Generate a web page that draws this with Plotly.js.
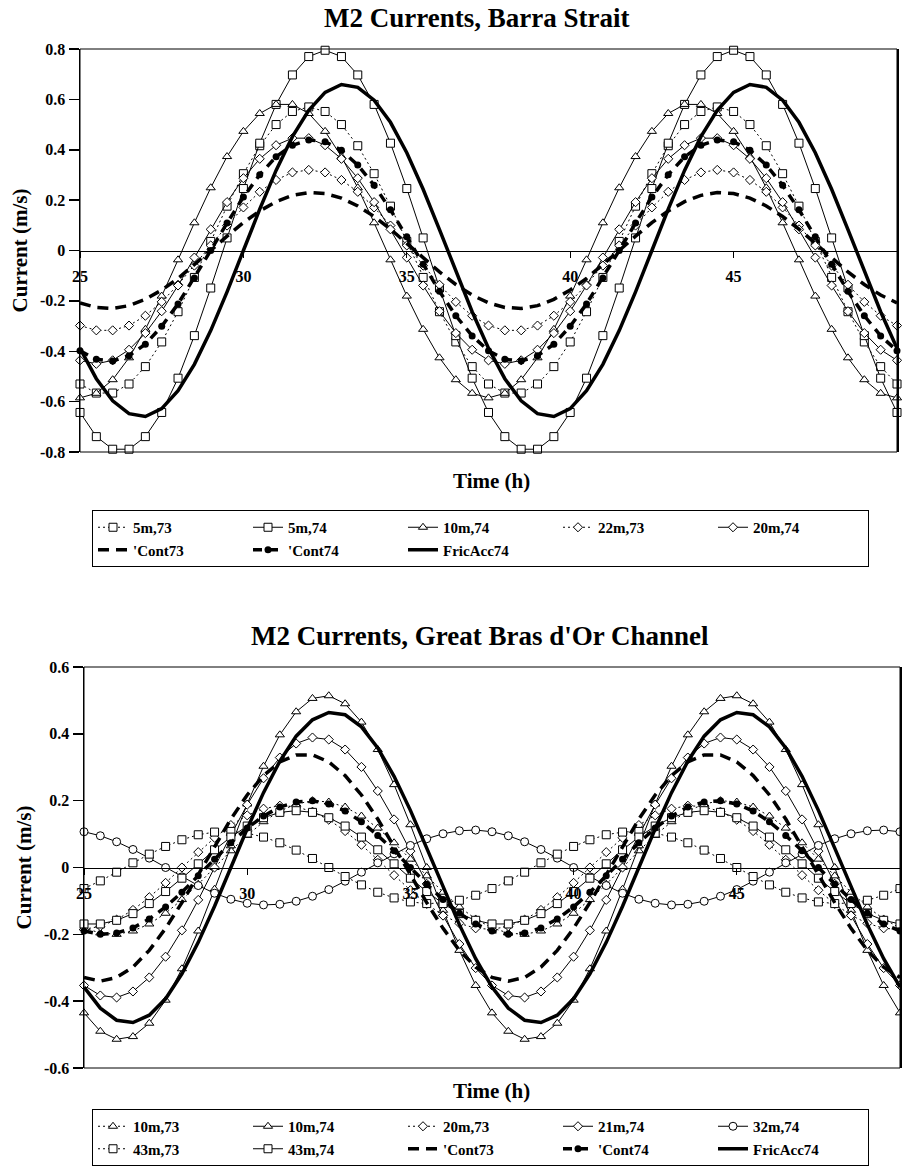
<!DOCTYPE html>
<html><head><meta charset="utf-8">
<script src="https://cdn.plot.ly/plotly-3.0.1.min.js"></script>
<style>html,body{margin:0;padding:0;background:#fff}#chart{width:902px;height:1172px}</style>
</head><body><div id="chart"></div>
<script>
// ---- data ----
const timeH = [25,25.5,26,26.5,27,27.5,28,28.5,29,29.5,30,30.5,31,31.5,32,32.5,33,33.5,34,34.5,35,35.5,36,36.5,37,37.5,38,38.5,39,39.5,40,40.5,41,41.5,42,42.5,43,43.5,44,44.5,45,45.5,46,46.5,47,47.5,48,48.5,49,49.5,50];
const xTickVals = [25,30,35,40,45,50];
const xTickText = ['25','30','35','40','45','50'];
const yTickVals1 = [-0.8,-0.6,-0.4,-0.2,0,0.2,0.4,0.6,0.8];
const yTickText1 = ['-0.8','-0.6','-0.4','-0.2','0','0.2','0.4','0.6','0.8'];
const yTickVals2 = [-0.6,-0.4,-0.2,0,0.2,0.4,0.6];
const yTickText2 = ['-0.6','-0.4','-0.2','0','0.2','0.4','0.6'];

// Barra Strait
const barra_5m73 = [-0.53,-0.566,-0.566,-0.53,-0.461,-0.363,-0.243,-0.107,0.036,0.176,0.305,0.416,0.5,0.552,0.57,0.552,0.5,0.416,0.305,0.176,0.036,-0.107,-0.243,-0.363,-0.461,-0.53,-0.566,-0.566,-0.53,-0.461,-0.363,-0.243,-0.107,0.036,0.176,0.305,0.416,0.5,0.552,0.57,0.552,0.5,0.416,0.305,0.176,0.036,-0.107,-0.243,-0.363,-0.461,-0.53];
const barra_5m74 = [-0.643,-0.739,-0.789,-0.789,-0.739,-0.643,-0.507,-0.338,-0.149,0.05,0.246,0.426,0.58,0.697,0.77,0.795,0.77,0.697,0.58,0.426,0.246,0.05,-0.149,-0.338,-0.507,-0.643,-0.739,-0.789,-0.789,-0.739,-0.643,-0.507,-0.338,-0.149,0.05,0.246,0.426,0.58,0.697,0.77,0.795,0.77,0.697,0.58,0.426,0.246,0.05,-0.149,-0.338,-0.507,-0.643];
const barra_10m74 = [-0.585,-0.567,-0.513,-0.426,-0.313,-0.181,-0.037,0.11,0.249,0.373,0.473,0.544,0.58,0.58,0.544,0.473,0.373,0.249,0.11,-0.037,-0.181,-0.313,-0.426,-0.513,-0.567,-0.585,-0.567,-0.513,-0.426,-0.313,-0.181,-0.037,0.11,0.249,0.373,0.473,0.544,0.58,0.58,0.544,0.473,0.373,0.249,0.11,-0.037,-0.181,-0.313,-0.426,-0.513,-0.567,-0.585];
const barra_22m73 = [-0.298,-0.317,-0.317,-0.298,-0.259,-0.204,-0.136,-0.06,0.02,0.099,0.171,0.233,0.28,0.31,0.32,0.31,0.28,0.233,0.171,0.099,0.02,-0.06,-0.136,-0.204,-0.259,-0.298,-0.317,-0.317,-0.298,-0.259,-0.204,-0.136,-0.06,0.02,0.099,0.171,0.233,0.28,0.31,0.32,0.31,0.28,0.233,0.171,0.099,0.02,-0.06,-0.136,-0.204,-0.259,-0.298];
const barra_20m74 = [-0.436,-0.45,-0.436,-0.394,-0.328,-0.241,-0.139,-0.028,0.084,0.192,0.287,0.364,0.418,0.446,0.446,0.418,0.364,0.287,0.192,0.084,-0.028,-0.139,-0.241,-0.328,-0.394,-0.436,-0.45,-0.436,-0.394,-0.328,-0.241,-0.139,-0.028,0.084,0.192,0.287,0.364,0.418,0.446,0.446,0.418,0.364,0.287,0.192,0.084,-0.028,-0.139,-0.241,-0.328,-0.394,-0.436];
const barra_cont73 = [-0.208,-0.226,-0.23,-0.219,-0.194,-0.157,-0.111,-0.057,0,0.057,0.111,0.157,0.194,0.219,0.23,0.226,0.208,0.177,0.135,0.085,0.029,-0.029,-0.085,-0.135,-0.177,-0.208,-0.226,-0.23,-0.219,-0.194,-0.157,-0.111,-0.057,0,0.057,0.111,0.157,0.194,0.219,0.23,0.226,0.208,0.177,0.135,0.085,0.029,-0.029,-0.085,-0.135,-0.177,-0.208];
const barra_cont74 = [-0.398,-0.432,-0.439,-0.418,-0.372,-0.301,-0.212,-0.109,0,0.109,0.212,0.301,0.372,0.418,0.439,0.432,0.398,0.339,0.259,0.162,0.055,-0.055,-0.162,-0.259,-0.339,-0.398,-0.432,-0.439,-0.418,-0.372,-0.301,-0.212,-0.109,0,0.109,0.212,0.301,0.372,0.418,0.439,0.432,0.398,0.339,0.259,0.162,0.055,-0.055,-0.162,-0.259,-0.339,-0.398];
const barra_fric74 = [-0.388,-0.509,-0.597,-0.648,-0.659,-0.628,-0.557,-0.452,-0.318,-0.164,0,0.164,0.318,0.452,0.557,0.628,0.659,0.648,0.597,0.509,0.388,0.243,0.083,-0.083,-0.243,-0.388,-0.509,-0.597,-0.648,-0.659,-0.628,-0.557,-0.452,-0.318,-0.164,0,0.164,0.318,0.452,0.557,0.628,0.659,0.648,0.597,0.509,0.388,0.243,0.083,-0.083,-0.243,-0.388];

// Great Bras d'Or Channel
const bras_10m73 = [-0.181,-0.196,-0.2,-0.19,-0.169,-0.137,-0.096,-0.05,0,0.05,0.096,0.137,0.169,0.19,0.2,0.196,0.181,0.154,0.118,0.074,0.025,-0.025,-0.074,-0.118,-0.154,-0.181,-0.196,-0.2,-0.19,-0.169,-0.137,-0.096,-0.05,0,0.05,0.096,0.137,0.169,0.19,0.2,0.196,0.181,0.154,0.118,0.074,0.025,-0.025,-0.074,-0.118,-0.154,-0.181];
const bras_10m74 = [-0.435,-0.49,-0.514,-0.506,-0.466,-0.397,-0.303,-0.19,-0.065,0.065,0.19,0.303,0.397,0.466,0.506,0.514,0.49,0.435,0.353,0.248,0.128,0,-0.128,-0.248,-0.353,-0.435,-0.49,-0.514,-0.506,-0.466,-0.397,-0.303,-0.19,-0.065,0.065,0.19,0.303,0.397,0.466,0.506,0.514,0.49,0.435,0.353,0.248,0.128,0,-0.128,-0.248,-0.353,-0.435];
const bras_20m73 = [-0.185,-0.176,-0.156,-0.127,-0.089,-0.046,0,0.046,0.089,0.127,0.156,0.176,0.185,0.182,0.167,0.143,0.109,0.068,0.023,-0.023,-0.068,-0.109,-0.143,-0.167,-0.182,-0.185,-0.176,-0.156,-0.127,-0.089,-0.046,0,0.046,0.089,0.127,0.156,0.176,0.185,0.182,0.167,0.143,0.109,0.068,0.023,-0.023,-0.068,-0.109,-0.143,-0.167,-0.182,-0.185];
const bras_21m74 = [-0.353,-0.383,-0.389,-0.371,-0.329,-0.267,-0.188,-0.097,0,0.097,0.188,0.267,0.329,0.371,0.389,0.383,0.353,0.301,0.229,0.144,0.049,-0.049,-0.144,-0.229,-0.301,-0.353,-0.383,-0.389,-0.371,-0.329,-0.267,-0.188,-0.097,0,0.097,0.188,0.267,0.329,0.371,0.389,0.383,0.353,0.301,0.229,0.144,0.049,-0.049,-0.144,-0.229,-0.301,-0.353];
const bras_32m74 = [0.107,0.095,0.077,0.054,0.028,0,-0.028,-0.054,-0.077,-0.095,-0.107,-0.112,-0.11,-0.101,-0.086,-0.066,-0.041,-0.014,0.014,0.041,0.066,0.086,0.101,0.11,0.112,0.107,0.095,0.077,0.054,0.028,0,-0.028,-0.054,-0.077,-0.095,-0.107,-0.112,-0.11,-0.101,-0.086,-0.066,-0.041,-0.014,0.014,0.041,0.066,0.086,0.101,0.11,0.112,0.107];
const bras_43m73 = [-0.063,-0.04,-0.014,0.014,0.04,0.063,0.083,0.098,0.106,0.108,0.103,0.091,0.074,0.052,0.027,0,-0.027,-0.052,-0.074,-0.091,-0.103,-0.108,-0.106,-0.098,-0.083,-0.063,-0.04,-0.014,0.014,0.04,0.063,0.083,0.098,0.106,0.108,0.103,0.091,0.074,0.052,0.027,0,-0.027,-0.052,-0.074,-0.091,-0.103,-0.108,-0.106,-0.098,-0.083,-0.063];
const bras_43m74 = [-0.169,-0.169,-0.158,-0.138,-0.108,-0.072,-0.032,0.011,0.053,0.091,0.124,0.149,0.165,0.17,0.165,0.149,0.124,0.091,0.053,0.011,-0.032,-0.072,-0.108,-0.138,-0.158,-0.169,-0.169,-0.158,-0.138,-0.108,-0.072,-0.032,0.011,0.053,0.091,0.124,0.149,0.165,0.17,0.165,0.149,0.124,0.091,0.053,0.011,-0.032,-0.072,-0.108,-0.138,-0.158,-0.169];
const bras_cont73 = [-0.329,-0.34,-0.329,-0.298,-0.248,-0.182,-0.105,-0.021,0.064,0.145,0.217,0.275,0.316,0.337,0.337,0.316,0.275,0.217,0.145,0.064,-0.021,-0.105,-0.182,-0.248,-0.298,-0.329,-0.34,-0.329,-0.298,-0.248,-0.182,-0.105,-0.021,0.064,0.145,0.217,0.275,0.316,0.337,0.337,0.316,0.275,0.217,0.145,0.064,-0.021,-0.105,-0.182,-0.248,-0.298,-0.329];
const bras_cont74 = [-0.19,-0.2,-0.196,-0.181,-0.154,-0.118,-0.074,-0.025,0.025,0.074,0.118,0.154,0.181,0.196,0.2,0.19,0.169,0.137,0.096,0.05,0,-0.05,-0.096,-0.137,-0.169,-0.19,-0.2,-0.196,-0.181,-0.154,-0.118,-0.074,-0.025,0.025,0.074,0.118,0.154,0.181,0.196,0.2,0.19,0.169,0.137,0.096,0.05,0,-0.05,-0.096,-0.137,-0.169,-0.19];
const bras_fric74 = [-0.358,-0.421,-0.457,-0.464,-0.442,-0.393,-0.318,-0.224,-0.116,0,0.116,0.224,0.318,0.393,0.442,0.464,0.457,0.421,0.358,0.273,0.171,0.058,-0.058,-0.171,-0.273,-0.358,-0.421,-0.457,-0.464,-0.442,-0.393,-0.318,-0.224,-0.116,0,0.116,0.224,0.318,0.393,0.442,0.464,0.457,0.421,0.358,0.273,0.171,0.058,-0.058,-0.171,-0.273,-0.358];

// ---- styles ----
const FONT = 'Liberation Serif, Times New Roman, serif';
const DOT = '2px,3px';
const styles = {
  dotSquare:  {mode:'lines+markers', line:{color:'#000', width:1, dash:DOT}, marker:{symbol:'square', size:8, color:'#fff', line:{color:'#000', width:1}}},
  solSquare:  {mode:'lines+markers', line:{color:'#000', width:1}, marker:{symbol:'square', size:8, color:'#fff', line:{color:'#000', width:1}}},
  dotTri:     {mode:'lines+markers', line:{color:'#000', width:1, dash:DOT}, marker:{symbol:'triangle-up', size:8, color:'#fff', line:{color:'#000', width:1}}},
  solTri:     {mode:'lines+markers', line:{color:'#000', width:1}, marker:{symbol:'triangle-up', size:8, color:'#fff', line:{color:'#000', width:1}}},
  dotDiam:    {mode:'lines+markers', line:{color:'#000', width:1, dash:DOT}, marker:{symbol:'diamond', size:7, color:'#fff', line:{color:'#000', width:1}}},
  solDiam:    {mode:'lines+markers', line:{color:'#000', width:1}, marker:{symbol:'diamond', size:7, color:'#fff', line:{color:'#000', width:1}}},
  solCirc:    {mode:'lines+markers', line:{color:'#000', width:1}, marker:{symbol:'circle', size:8, color:'#fff', line:{color:'#000', width:1}}},
  cont73:     {mode:'lines', line:{color:'#000', width:3.5, dash:'11px,7px'}},
  cont74:     {mode:'lines+markers', line:{color:'#000', width:3.5, dash:'9px,7px'}, marker:{symbol:'circle', size:7, color:'#000'}},
  fric:       {mode:'lines', line:{color:'#000', width:3.5}}
};
function mk(name, y, xa, ya, leg, st){
  return Object.assign({type:'scatter', name:name, x:timeH, y:y, xaxis:xa, yaxis:ya, legend:leg, cliponaxis:false, hoverinfo:'x+y+name'}, JSON.parse(JSON.stringify(styles[st])));
}
const traces = [
  mk('5m,73', barra_5m73, 'x','y','legend','dotSquare'),
  mk('5m,74', barra_5m74, 'x','y','legend','solSquare'),
  mk('10m,74', barra_10m74, 'x','y','legend','solTri'),
  mk('22m,73', barra_22m73, 'x','y','legend','dotDiam'),
  mk('20m,74', barra_20m74, 'x','y','legend','solDiam'),
  mk("'Cont73", barra_cont73, 'x','y','legend','cont73'),
  mk("'Cont74", barra_cont74, 'x','y','legend','cont74'),
  mk('FricAcc74', barra_fric74, 'x','y','legend','fric'),
  mk('10m,73', bras_10m73, 'x2','y2','legend2','dotTri'),
  mk('10m,74', bras_10m74, 'x2','y2','legend2','solTri'),
  mk('20m,73', bras_20m73, 'x2','y2','legend2','dotDiam'),
  mk('21m,74', bras_21m74, 'x2','y2','legend2','solDiam'),
  mk('32m,74', bras_32m74, 'x2','y2','legend2','solCirc'),
  mk('43m,73', bras_43m73, 'x2','y2','legend2','dotSquare'),
  mk('43m,74', bras_43m74, 'x2','y2','legend2','solSquare'),
  mk("'Cont73", bras_cont73, 'x2','y2','legend2','cont73'),
  mk("'Cont74", bras_cont74, 'x2','y2','legend2','cont74'),
  mk('FricAcc74', bras_fric74, 'x2','y2','legend2','fric')
];

const W = 902, H = 1172;
const px = v => v / W;
const py = v => 1 - v / H;
const tickFont = {family:FONT, size:16, color:'#000', weight:'bold'};
const yDom1 = [py(452), py(49)];
const yDom2 = [py(1068), py(667)];
function xAxis(dom, yd){
  return {domain:dom, range:[25,50], anchor:'free', position:(yd[0]+yd[1])/2,
    showline:true, linecolor:'#000', linewidth:1, ticks:'outside', ticklen:6, tickwidth:1, tickcolor:'#000',
    tickvals:xTickVals, ticktext:xTickText, tickfont:tickFont, ticklabelstandoff:5,
    showgrid:false, zeroline:false, fixedrange:true};
}
function yAxis(dom, xa, rng, tv, tt){
  return {domain:dom, range:rng, anchor:xa, showline:true, mirror:true, linecolor:'#000', linewidth:1.5,
    ticks:'outside', ticklen:10, tickwidth:1.5, tickcolor:'#000', tickvals:tv, ticktext:tt, tickfont:tickFont,
    showgrid:false, zeroline:false, fixedrange:true,
    title:{text:'Current (m/s)', font:{family:FONT, size:21, color:'#000', weight:'bold'}, standoff:6}};
}
const legendCommon = {orientation:'h', xanchor:'left', yanchor:'top', bgcolor:'#fff', bordercolor:'#000', borderwidth:1,
  font:{family:FONT, size:15, color:'#000', weight:'bold'}, entrywidth:110, entrywidthmode:'pixels', traceorder:'normal', itemwidth:30};
const layout = {
  width:W, height:H, autosize:false, margin:{l:0,r:0,t:0,b:0}, paper_bgcolor:'#fff', plot_bgcolor:'#fff',
  showlegend:true,
  xaxis: xAxis([px(80), px(897)], yDom1),
  yaxis: yAxis(yDom1, 'x', [-0.8,0.8], yTickVals1, yTickText1),
  xaxis2: xAxis([px(84), px(900)], yDom2),
  yaxis2: yAxis(yDom2, 'x2', [-0.6,0.6], yTickVals2, yTickText2),
  legend: Object.assign({x:px(92), y:py(510)}, legendCommon),
  legend2: Object.assign({x:px(92), y:py(1109)}, legendCommon),
  shapes:[
    {type:'rect', xref:'x domain', yref:'y domain', x0:0, x1:1, y0:0, y1:1, line:{color:'#000', width:1}},
    {type:'rect', xref:'x2 domain', yref:'y2 domain', x0:0, x1:1, y0:0, y1:1, line:{color:'#000', width:1}}
  ],
  annotations:[
    {text:'M2 Currents, Barra Strait', xref:'paper', yref:'paper', x:px(476), y:py(18), showarrow:false, xanchor:'center', yanchor:'middle', font:{family:FONT, size:27, color:'#000', weight:'bold'}},
    {text:"M2 Currents, Great Bras d'Or Channel", xref:'paper', yref:'paper', x:px(480), y:py(636), showarrow:false, xanchor:'center', yanchor:'middle', font:{family:FONT, size:27, color:'#000', weight:'bold'}},
    {text:'Time (h)', xref:'paper', yref:'paper', x:px(491), y:py(481), showarrow:false, xanchor:'center', yanchor:'middle', font:{family:FONT, size:21, color:'#000', weight:'bold'}},
    {text:'Time (h)', xref:'paper', yref:'paper', x:px(491), y:py(1091), showarrow:false, xanchor:'center', yanchor:'middle', font:{family:FONT, size:21, color:'#000', weight:'bold'}}
  ]
};
Plotly.newPlot('chart', traces, layout, {staticPlot:true, displayModeBar:false});
</script></body></html>
